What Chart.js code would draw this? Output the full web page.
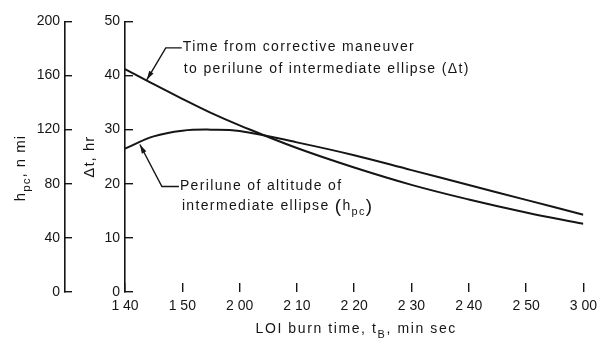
<!DOCTYPE html>
<html>
<head>
<meta charset="utf-8">
<title>LOI burn time</title>
<script src="https://cdn.jsdelivr.net/npm/chart.js@4.4.1/dist/chart.umd.min.js"></script>
<style>
  html, body { margin: 0; padding: 0; background: #fff; }
  canvas { display: block; }
</style>
</head>
<body>
<canvas id="chart" width="599" height="345"></canvas>
<script>
// LOI burn time, seconds (1:40 .. 3:00)
const burnTime = [100, 105, 110, 115, 120, 130, 140, 150, 160, 170, 180];
// time from corrective maneuver to perilune of intermediate ellipse, hr
const deltaT = [41.2, 38.4, 35.7, 33.1, 30.8, 26.6, 23.0, 19.8, 17.1, 14.7, 12.6];
// perilune altitude of intermediate ellipse, n mi
const hpc = [106, 115, 119.2, 120, 119, 110.6, 101.1, 90.1, 79.1, 68.1, 57.1];

const xTicks = [100, 110, 120, 130, 140, 150, 160, 170, 180];
const dtTicks = [0, 10, 20, 30, 40, 50];
const hpcTicks = [0, 40, 80, 120, 160, 200];

const INK = '#151515';
const FONT = '"Liberation Sans", Arial, sans-serif';

function minSec(v) {
    return Math.floor(v / 60) + ' ' + String(v % 60).padStart(2, '0');
}

// text with optional subscripts: parts = [[text, sub, scale]]
function richWidth(ctx, parts, size) {
    let w = 0;
    for (const [s, sub, k] of parts) {
        ctx.font = (sub ? size * 0.78 : size * (k || 1)) + 'px ' + FONT;
        w += ctx.measureText(s).width;
    }
    return w;
}
function drawRich(ctx, parts, x, y, size) {
    let cx = x;
    for (const [s, sub, k] of parts) {
        ctx.font = (sub ? size * 0.78 : size * (k || 1)) + 'px ' + FONT;
        ctx.fillText(s, cx, sub ? y + size * 0.4 : y);
        cx += ctx.measureText(s).width;
    }
}

function arrowLeader(ctx, pts) {
    ctx.beginPath();
    ctx.moveTo(pts[0][0], pts[0][1]);
    for (let i = 1; i < pts.length; i++) ctx.lineTo(pts[i][0], pts[i][1]);
    ctx.stroke();
    // arrow head on the last point
    const [x1, y1] = pts[pts.length - 2];
    const [x2, y2] = pts[pts.length - 1];
    const a = Math.atan2(y2 - y1, x2 - x1);
    ctx.beginPath();
    ctx.moveTo(x2, y2);
    ctx.lineTo(x2 - 9 * Math.cos(a) + 2.5 * Math.sin(a), y2 - 9 * Math.sin(a) - 2.5 * Math.cos(a));
    ctx.lineTo(x2 - 9 * Math.cos(a) - 2.5 * Math.sin(a), y2 - 9 * Math.sin(a) + 2.5 * Math.cos(a));
    ctx.closePath();
    ctx.fill();
}

const labelsPlugin = {
    id: 'labels',
    afterDraw(chart) {
        const ctx = chart.ctx;
        const { x, yT, yH } = chart.scales;
        const area = chart.chartArea;
        ctx.save();
        ctx.fillStyle = INK;
        ctx.strokeStyle = INK;
        ctx.lineWidth = 1.4;
        ctx.textBaseline = 'middle';
        ctx.textAlign = 'left';

        // axis titles
        ctx.letterSpacing = '1.6px';
        const xt = [['LOI burn time, t'], ['B', true], [', min sec']];
        drawRich(ctx, xt, (area.left + area.right) / 2 + 2 - richWidth(ctx, xt, 14) / 2, 329, 14);

        ctx.letterSpacing = '1px';
        const ht = [['h'], ['pc', true], [', n mi']];
        ctx.save();
        ctx.translate(21, 168);
        ctx.rotate(-Math.PI / 2);
        drawRich(ctx, ht, -richWidth(ctx, ht, 15) / 2, 0, 15);
        ctx.restore();

        const tt = [['Δt, hr']];
        ctx.save();
        ctx.translate(90, (area.top + area.bottom) / 2);
        ctx.rotate(-Math.PI / 2);
        drawRich(ctx, tt, -richWidth(ctx, tt, 15) / 2, 0, 15);
        ctx.restore();

        // curve callouts
        ctx.letterSpacing = '1.35px';
        const t1x = x.getPixelForValue(103.8), t1y = yT.getPixelForValue(39.2);
        arrowLeader(ctx, [[t1x + 35, t1y - 32], [t1x + 19, t1y - 32], [t1x, t1y]]);
        drawRich(ctx, [['Time from corrective maneuver']], t1x + 36, t1y - 33, 14);
        drawRich(ctx, [['to perilune of intermediate ellipse (Δt)']], t1x + 37, t1y - 11, 14);

        const t2x = x.getPixelForValue(102.6), t2y = yH.getPixelForValue(109);
        arrowLeader(ctx, [[t2x + 39, t2y + 42], [t2x + 22, t2y + 42], [t2x, t2y]]);
        drawRich(ctx, [['Perilune of altitude of']], t2x + 40, t2y + 42, 14);
        drawRich(ctx, [['intermediate ellipse '], ['(', false, 1.35], ['h'], ['pc', true], [')', false, 1.35]],
            t2x + 42, t2y + 62, 14);
        ctx.restore();
    }
};

const tickFont = { family: FONT, size: 14 };

new Chart(document.getElementById('chart'), {
    type: 'line',
    data: {
        labels: burnTime,
        datasets: [
            {
                label: 'Δt',
                data: burnTime.map((t, i) => ({ x: t, y: deltaT[i] })),
                yAxisID: 'yT',
                borderColor: INK,
                borderWidth: 2,
                pointRadius: 0,
                tension: 0.4
            },
            {
                label: 'hpc',
                data: burnTime.map((t, i) => ({ x: t, y: hpc[i] })),
                yAxisID: 'yH',
                borderColor: INK,
                borderWidth: 2,
                pointRadius: 0,
                tension: 0.4
            }
        ]
    },
    options: {
        responsive: false,
        animation: false,
        layout: { padding: { top: 19, right: 3, bottom: 0, left: 0 } },
        plugins: { legend: { display: false }, tooltip: { enabled: false } },
        scales: {
            x: {
                type: 'linear',
                min: 100,
                max: 180,
                afterBuildTicks: s => { s.ticks = xTicks.map(v => ({ value: v })); },
                afterFit: s => { s.height = 53; },
                border: { display: false },
                grid: { drawOnChartArea: false, tickLength: -9, color: INK, lineWidth: 1.4 },
                // tall line height pushes the labels below the inward tick marks
                ticks: {
                    color: INK, font: { family: FONT, size: 14, lineHeight: 3 },
                    padding: 2, maxRotation: 0, callback: v => minSec(v)
                }
            },
            yT: {
                position: 'left',
                weight: 0,
                min: 0,
                max: 50,
                afterBuildTicks: s => { s.ticks = dtTicks.map(v => ({ value: v })); },
                afterFit: s => { s.width = 60; },
                border: { color: INK, width: 1.6 },
                grid: { drawOnChartArea: false, tickLength: -8, color: INK, lineWidth: 1.4 },
                ticks: { color: INK, font: tickFont, padding: 13 }
            },
            yH: {
                position: 'left',
                weight: 1,
                min: 0,
                max: 200,
                afterBuildTicks: s => { s.ticks = hpcTicks.map(v => ({ value: v })); },
                afterFit: s => { s.width = 65; },
                border: { color: INK, width: 1.6 },
                grid: { drawOnChartArea: false, tickLength: -7, color: INK, lineWidth: 1.4 },
                ticks: { color: INK, font: tickFont, padding: 12 }
            }
        }
    },
    plugins: [labelsPlugin]
});
</script>
</body>
</html>
